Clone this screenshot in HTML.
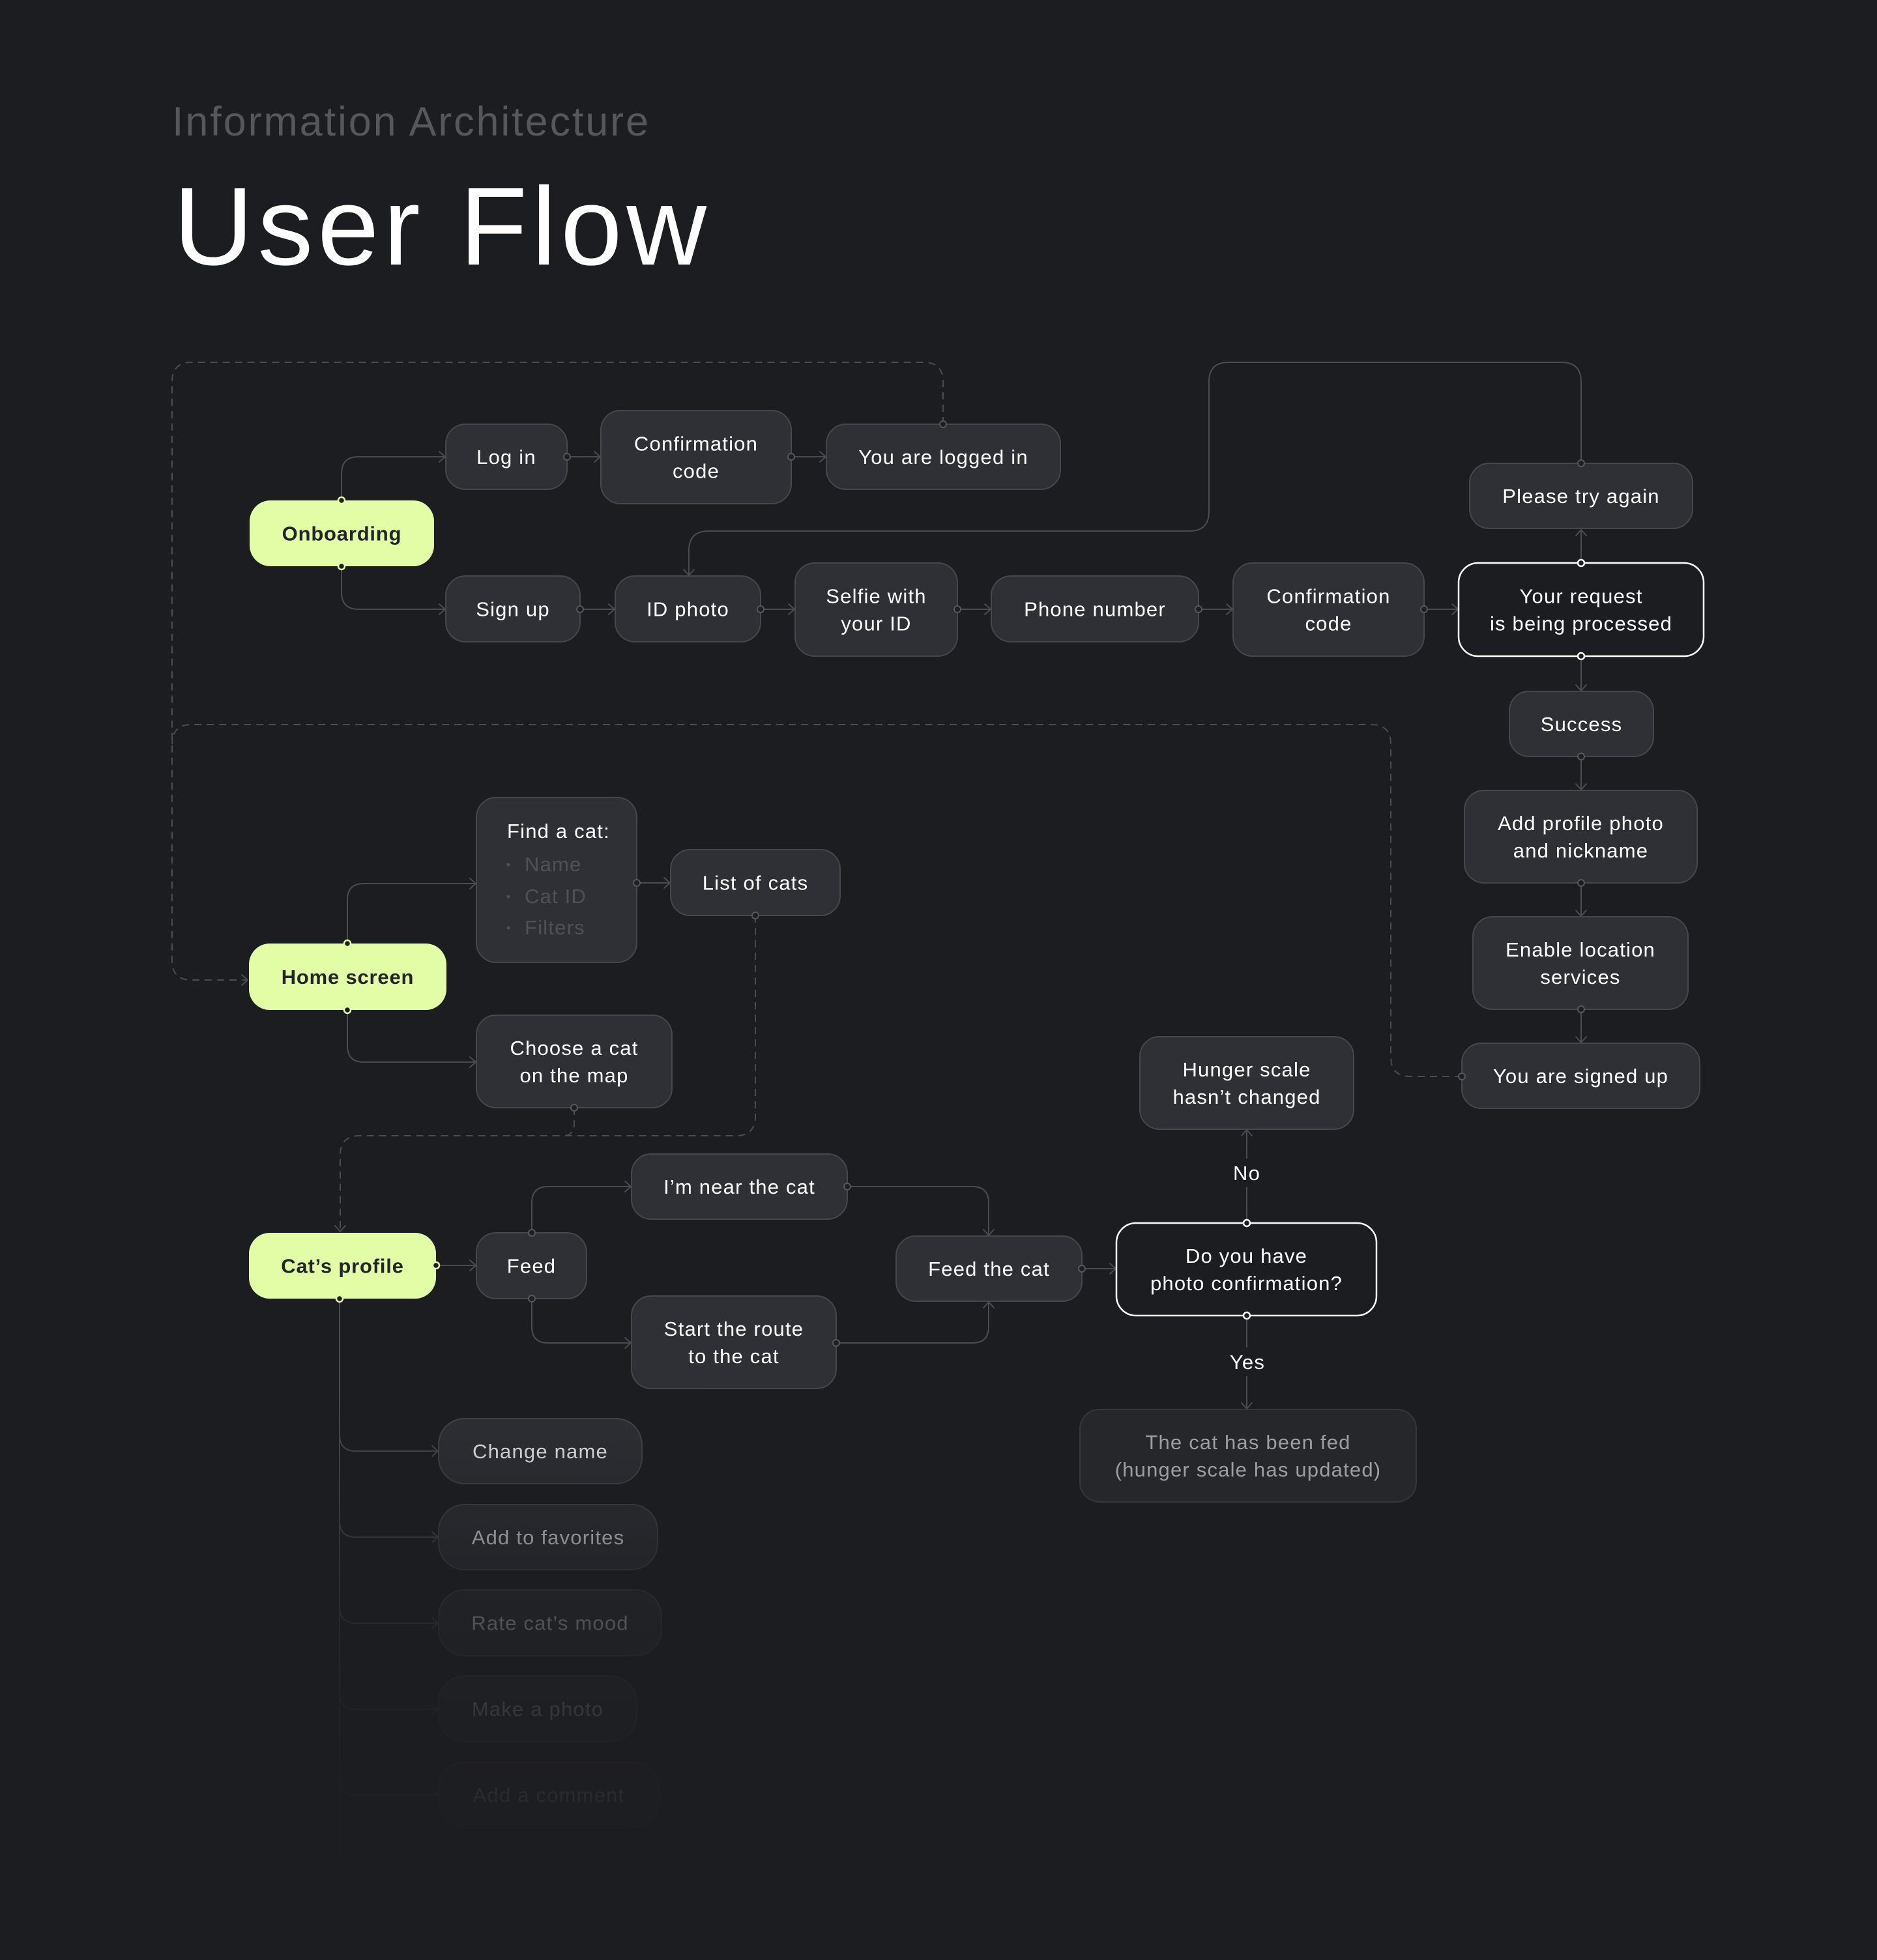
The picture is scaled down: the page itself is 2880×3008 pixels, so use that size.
<!DOCTYPE html>
<html>
<head>
<meta charset="utf-8">
<style>
html,body{margin:0;padding:0;background:#1c1d21;}
svg{display:block;}
text{font-family:"Liberation Sans",Arial,sans-serif;}
.n{fill:#2f3035;stroke:#46474c;stroke-width:2;}
.w{fill:#1c1d21;stroke:#ffffff;stroke-width:2.5;}
.g{fill:#e2fda6;stroke:none;}
.t{fill:#ffffff;font-size:31px;letter-spacing:1.2px;text-anchor:middle;}
.tg{fill:#23252b;font-size:31px;font-weight:bold;letter-spacing:0.8px;text-anchor:middle;}
.l{fill:none;stroke:#4b4c51;stroke-width:2;}
.d{fill:none;stroke:#4b4c51;stroke-width:2;stroke-dasharray:11 8;}
.a{fill:none;stroke:#4b4c51;stroke-width:2;stroke-linecap:round;stroke-linejoin:round;}
.dot{fill:#1e1f23;stroke:#56575c;stroke-width:2;}
.dotw{fill:#1c1d21;stroke:#ffffff;stroke-width:2.5;}
.dotg{fill:#1c1d21;stroke:#e2fda6;stroke-width:2.5;}
</style>
</head>
<body>
<svg width="2880" height="3008" viewBox="0 0 2880 3008" xmlns="http://www.w3.org/2000/svg">
<defs>
<linearGradient id="fade" gradientUnits="userSpaceOnUse" x1="0" y1="2120" x2="0" y2="2900">
<stop offset="0" stop-color="#1c1d21" stop-opacity="0"/>
<stop offset="0.138" stop-color="#1c1d21" stop-opacity="0.22"/>
<stop offset="0.306" stop-color="#1c1d21" stop-opacity="0.5"/>
<stop offset="0.476" stop-color="#1c1d21" stop-opacity="0.77"/>
<stop offset="0.645" stop-color="#1c1d21" stop-opacity="0.89"/>
<stop offset="0.814" stop-color="#1c1d21" stop-opacity="0.94"/>
<stop offset="1" stop-color="#1c1d21" stop-opacity="1"/>
</linearGradient>
</defs>
<rect x="0" y="0" width="2880" height="3008" fill="#1c1d21"/>

<!-- Titles -->
<text x="264" y="208" font-size="63" fill="#55575c" textLength="731" lengthAdjust="spacing" style="letter-spacing:0">Information Architecture</text>
<text x="266" y="406" font-size="170" fill="#ffffff" textLength="818" lengthAdjust="spacing" style="letter-spacing:0">User Flow</text>

<!-- Dashed connectors -->
<path class="d" d="M1447,651 V586 Q1447,556 1417,556 H294 Q264,556 264,586 V1474 Q264,1504 294,1504 H380"/>
<path class="a" d="M371,1496 L380,1504 L371,1512"/>
<path class="d" d="M2243,1652 H2164 Q2134,1652 2134,1622 V1142 Q2134,1112 2104,1112 H294 Q264,1112 264,1142"/>
<path class="d" d="M1159,1405 V1713 Q1159,1743 1129,1743 H552 Q522,1743 522,1773 V1890"/>
<path class="a" d="M514,1881 L522,1890 L530,1881"/>
<path class="d" d="M881,1700 V1725 Q881,1743 863,1743"/>

<!-- Solid connectors -->
<path class="l" d="M524,768 V727 Q524,701 550,701 H683"/>
<path class="a" d="M674,693 L683,701 L674,709"/>
<path class="l" d="M524,869 V909 Q524,935 550,935 H683"/>
<path class="a" d="M674,927 L683,935 L674,943"/>
<path class="l" d="M870,701 H921"/><path class="a" d="M912,693 L921,701 L912,709"/>
<path class="l" d="M1214,701 H1267"/><path class="a" d="M1258,693 L1267,701 L1258,709"/>
<path class="l" d="M890,935 H943"/><path class="a" d="M934,927 L943,935 L934,943"/>
<path class="l" d="M1167,935 H1219"/><path class="a" d="M1210,927 L1219,935 L1210,943"/>
<path class="l" d="M1469,935 H1520"/><path class="a" d="M1511,927 L1520,935 L1511,943"/>
<path class="l" d="M1839,935 H1891"/><path class="a" d="M1882,927 L1891,935 L1882,943"/>
<path class="l" d="M2185,935 H2237"/><path class="a" d="M2228,927 L2237,935 L2228,943"/>
<path class="l" d="M2426,864 V813"/><path class="a" d="M2418,822 L2426,813 L2434,822"/>
<path class="l" d="M2426,711 V586 Q2426,556 2396,556 H1885 Q1855,556 1855,586 V785 Q1855,815 1825,815 H1087 Q1057,815 1057,845 V883"/>
<path class="a" d="M1049,874 L1057,883 L1065,874"/>
<path class="l" d="M2426,1007 V1060"/><path class="a" d="M2418,1051 L2426,1060 L2434,1051"/>
<path class="l" d="M2426,1161 V1212"/><path class="a" d="M2418,1203 L2426,1212 L2434,1203"/>
<path class="l" d="M2426,1355 V1406"/><path class="a" d="M2418,1397 L2426,1406 L2434,1397"/>
<path class="l" d="M2426,1549 V1600"/><path class="a" d="M2418,1591 L2426,1600 L2434,1591"/>
<path class="l" d="M533,1448 V1381 Q533,1356 558,1356 H730"/><path class="a" d="M721,1348 L730,1356 L721,1364"/>
<path class="l" d="M533,1550 V1605 Q533,1630 558,1630 H730"/><path class="a" d="M721,1622 L730,1630 L721,1638"/>
<path class="l" d="M977,1355 H1028"/><path class="a" d="M1019,1347 L1028,1355 L1019,1363"/>
<path class="l" d="M669,1942 H730"/><path class="a" d="M721,1934 L730,1942 L721,1950"/>
<path class="l" d="M816,1892 V1846 Q816,1821 841,1821 H968"/><path class="a" d="M959,1813 L968,1821 L959,1829"/>
<path class="l" d="M816,1993 V2036 Q816,2061 841,2061 H968"/><path class="a" d="M959,2053 L968,2061 L959,2069"/>
<path class="l" d="M1300,1821 H1492 Q1517,1821 1517,1846 V1896"/><path class="a" d="M1509,1887 L1517,1896 L1525,1887"/>
<path class="l" d="M1283,2061 H1492 Q1517,2061 1517,2036 V1998"/><path class="a" d="M1509,2007 L1517,1998 L1525,2007"/>
<path class="l" d="M1660,1947 H1712"/><path class="a" d="M1703,1939 L1712,1947 L1703,1955"/>
<path class="l" d="M1913,1877 V1734"/><path class="a" d="M1905,1743 L1913,1734 L1921,1743"/>
<path class="l" d="M1913,2019 V2162"/><path class="a" d="M1905,2153 L1913,2162 L1921,2153"/>
<rect x="1880" y="1778" width="66" height="44" fill="#1c1d21"/>
<text class="t" x="1913" y="1811">No</text>
<rect x="1872" y="2068" width="82" height="44" fill="#1c1d21"/>
<text class="t" x="1914" y="2101">Yes</text>

<!-- Cat's profile list connectors -->
<path class="l" d="M521,1993 V2860"/>
<path class="l" d="M521,2202 Q521,2227 546,2227 H672"/><path class="a" d="M663,2219 L672,2227 L663,2235"/>
<path class="l" d="M521,2334 Q521,2359 546,2359 H672"/><path class="a" d="M663,2351 L672,2359 L663,2367"/>
<path class="l" d="M521,2466 Q521,2491 546,2491 H672"/><path class="a" d="M663,2483 L672,2491 L663,2499"/>
<path class="l" d="M521,2598 Q521,2623 546,2623 H672"/><path class="a" d="M663,2615 L672,2623 L663,2631"/>
<path class="l" d="M521,2730 Q521,2755 546,2755 H672"/><path class="a" d="M663,2747 L672,2755 L663,2763"/>

<!-- Green nodes -->
<rect class="g" x="383" y="768" width="283" height="101" rx="32"/>
<text class="tg" x="524.5" y="829.5">Onboarding</text>
<rect class="g" x="382" y="1448" width="303" height="102" rx="32"/>
<text class="tg" x="533.5" y="1510">Home screen</text>
<rect class="g" x="382" y="1892" width="287" height="101" rx="32"/>
<text class="tg" x="525.5" y="1953.5">Cat’s profile</text>

<!-- Gray nodes -->
<rect class="n" x="684" y="651" width="186" height="100" rx="30"/>
<text class="t" x="777" y="712">Log in</text>
<rect class="n" x="922" y="630" width="292" height="143" rx="30"/>
<text class="t" x="1068" y="691.5">Confirmation</text><text class="t" x="1068" y="733.5">code</text>
<rect class="n" x="1268" y="651" width="359" height="100" rx="30"/>
<text class="t" x="1447.5" y="712">You are logged in</text>
<rect class="n" x="684" y="884" width="206" height="101" rx="30"/>
<text class="t" x="787" y="945.5">Sign up</text>
<rect class="n" x="944" y="884" width="223" height="101" rx="30"/>
<text class="t" x="1055.5" y="945.5">ID photo</text>
<rect class="n" x="1220" y="864" width="249" height="143" rx="30"/>
<text class="t" x="1344.5" y="925.5">Selfie with</text><text class="t" x="1344.5" y="967.5">your ID</text>
<rect class="n" x="1521" y="884" width="318" height="101" rx="30"/>
<text class="t" x="1680" y="945.5">Phone number</text>
<rect class="n" x="1892" y="864" width="293" height="143" rx="30"/>
<text class="t" x="2038.5" y="925.5">Confirmation</text><text class="t" x="2038.5" y="967.5">code</text>
<rect class="w" x="2238" y="864" width="376" height="143" rx="30"/>
<text class="t" x="2426" y="925.5">Your request</text><text class="t" x="2426" y="967.5">is being processed</text>
<rect class="n" x="2255" y="711" width="342" height="100" rx="30"/>
<text class="t" x="2426" y="772">Please try again</text>
<rect class="n" x="2316" y="1061" width="221" height="100" rx="30"/>
<text class="t" x="2426.5" y="1122">Success</text>
<rect class="n" x="2247" y="1213" width="357" height="142" rx="30"/>
<text class="t" x="2425.5" y="1274">Add profile photo</text><text class="t" x="2425.5" y="1316">and nickname</text>
<rect class="n" x="2260" y="1407" width="330" height="142" rx="30"/>
<text class="t" x="2425" y="1468">Enable location</text><text class="t" x="2425" y="1510">services</text>
<rect class="n" x="2243" y="1601" width="365" height="100" rx="30"/>
<text class="t" x="2425.5" y="1662">You are signed up</text>
<rect class="n" x="1749" y="1591" width="328" height="142" rx="30"/>
<text class="t" x="1913" y="1652">Hunger scale</text><text class="t" x="1913" y="1694">hasn’t changed</text>
<rect class="w" x="1713" y="1877" width="399" height="142" rx="30"/>
<text class="t" x="1912.5" y="1938">Do you have</text><text class="t" x="1912.5" y="1980">photo confirmation?</text>
<rect x="1657" y="2163" width="516" height="142" rx="30" fill="#26272b" stroke="#36373b" stroke-width="2"/>
<text class="t" x="1915" y="2224" style="fill:#9d9ea2">The cat has been fed</text><text class="t" x="1915" y="2266" style="fill:#9d9ea2">(hunger scale has updated)</text>

<rect class="n" x="731" y="1224" width="246" height="253" rx="30"/>
<text x="778" y="1286" font-size="31" fill="#ffffff" style="letter-spacing:1.2px">Find a cat:</text>
<circle cx="780" cy="1327" r="2.5" fill="#505156"/>
<text x="805" y="1337" font-size="31" fill="#505156" style="letter-spacing:1.2px">Name</text>
<circle cx="780" cy="1376" r="2.5" fill="#505156"/>
<text x="805" y="1386" font-size="31" fill="#505156" style="letter-spacing:1.2px">Cat ID</text>
<circle cx="780" cy="1424" r="2.5" fill="#505156"/>
<text x="805" y="1434" font-size="31" fill="#505156" style="letter-spacing:1.2px">Filters</text>

<rect class="n" x="1029" y="1304" width="260" height="101" rx="30"/>
<text class="t" x="1159" y="1365.5">List of cats</text>
<rect class="n" x="731" y="1558" width="300" height="142" rx="30"/>
<text class="t" x="881" y="1619">Choose a cat</text><text class="t" x="881" y="1661">on the map</text>
<rect class="n" x="731" y="1892" width="169" height="101" rx="30"/>
<text class="t" x="815.5" y="1953.5">Feed</text>
<rect class="n" x="969" y="1771" width="331" height="100" rx="30"/>
<text class="t" x="1134.5" y="1832">I’m near the cat</text>
<rect class="n" x="969" y="1989" width="314" height="142" rx="30"/>
<text class="t" x="1126" y="2050">Start the route</text><text class="t" x="1126" y="2092">to the cat</text>
<rect class="n" x="1375" y="1897" width="285" height="100" rx="30"/>
<text class="t" x="1517.5" y="1958">Feed the cat</text>

<!-- Cat's profile sub-items -->
<rect class="n" x="673" y="2177" width="312" height="100" rx="40"/>
<text class="t" x="829" y="2238">Change name</text>
<rect class="n" x="673" y="2309" width="336" height="100" rx="40"/>
<text class="t" x="841" y="2370">Add to favorites</text>
<rect class="n" x="673" y="2440" width="342" height="101" rx="40"/>
<text class="t" x="844" y="2501.5">Rate cat’s mood</text>
<rect class="n" x="673" y="2572" width="304" height="101" rx="40"/>
<text class="t" x="825" y="2633.5">Make a photo</text>
<rect class="n" x="673" y="2704" width="338" height="101" rx="40"/>
<text class="t" x="842" y="2765.5">Add a comment</text>

<!-- Fade overlay for bottom list -->
<rect x="440" y="2120" width="640" height="888" fill="url(#fade)"/>

<!-- Dots -->
<circle class="dotg" cx="524" cy="768" r="5"/>
<circle class="dotg" cx="524" cy="869" r="5"/>
<circle class="dot" cx="870" cy="701" r="5"/>
<circle class="dot" cx="1214" cy="701" r="5"/>
<circle class="dot" cx="1447" cy="651" r="5"/>
<circle class="dot" cx="890" cy="935" r="5"/>
<circle class="dot" cx="1167" cy="935" r="5"/>
<circle class="dot" cx="1469" cy="935" r="5"/>
<circle class="dot" cx="1839" cy="935" r="5"/>
<circle class="dot" cx="2185" cy="935" r="5"/>
<circle class="dotw" cx="2426" cy="864" r="5"/>
<circle class="dotw" cx="2426" cy="1007" r="5"/>
<circle class="dot" cx="2426" cy="711" r="5"/>
<circle class="dot" cx="2426" cy="1161" r="5"/>
<circle class="dot" cx="2426" cy="1355" r="5"/>
<circle class="dot" cx="2426" cy="1549" r="5"/>
<circle class="dot" cx="2243" cy="1652" r="5"/>
<circle class="dotg" cx="533" cy="1448" r="5"/>
<circle class="dotg" cx="533" cy="1550" r="5"/>
<circle class="dot" cx="977" cy="1355" r="5"/>
<circle class="dot" cx="1159" cy="1405" r="5"/>
<circle class="dot" cx="881" cy="1700" r="5"/>
<circle class="dotg" cx="669" cy="1942" r="5"/>
<circle class="dotg" cx="521" cy="1993" r="5"/>
<circle class="dot" cx="816" cy="1892" r="5"/>
<circle class="dot" cx="816" cy="1993" r="5"/>
<circle class="dot" cx="1300" cy="1821" r="5"/>
<circle class="dot" cx="1283" cy="2061" r="5"/>
<circle class="dot" cx="1660" cy="1947" r="5"/>
<circle class="dotw" cx="1913" cy="1877" r="5"/>
<circle class="dotw" cx="1913" cy="2019" r="5"/>
</svg>
</body>
</html>
